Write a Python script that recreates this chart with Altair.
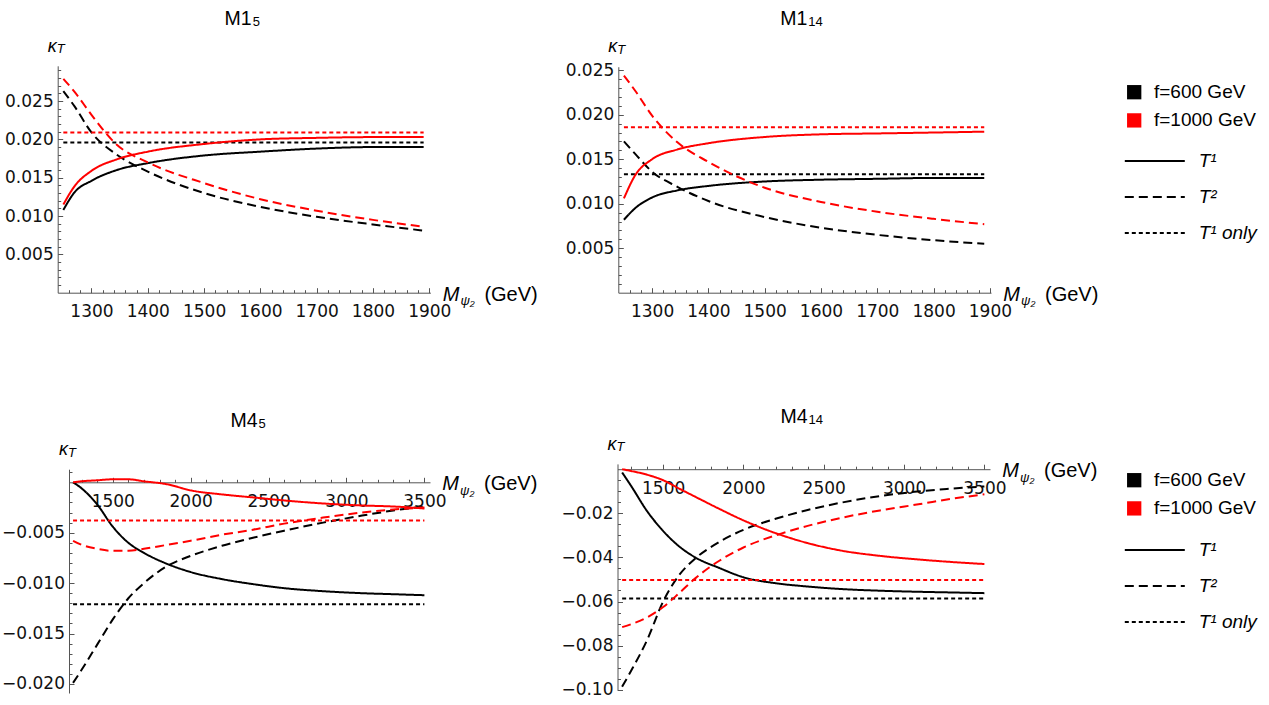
import altair as alt
import pandas as pd

W, H = 1269, 705

F_600, F_1000 = "f=600 GeV", "f=1000 GeV"
T1, T2, T1_ONLY = "T¹", "T²", "T¹ only"

# ---- M1 panels (upper row) -------------------------------------------
M1_X = [1250, 1270, 1300, 1345, 1400, 1500, 1600, 1700, 1800, 1890]

M1_5_T1_600 = [0.0108, 0.0131, 0.0146, 0.0160, 0.0169, 0.0179, 0.0184, 0.0188, 0.0190, 0.0190]
M1_5_T2_600 = [0.0263, 0.0243, 0.0209, 0.0180, 0.0158, 0.0130, 0.0112, 0.0099, 0.0089, 0.0081]
M1_5_T1_1000 = [0.0115, 0.0139, 0.0159, 0.0174, 0.0184, 0.0194, 0.0200, 0.0202, 0.0203, 0.0203]
M1_5_T2_1000 = [0.0279, 0.0262, 0.0232, 0.0193, 0.0170, 0.0143, 0.0122, 0.0107, 0.0095, 0.0086]
M1_5_ONLY_600, M1_5_ONLY_1000 = 0.0196, 0.0209

M1_14_T1_600 = [0.0082, 0.0095, 0.0107, 0.0115, 0.0120, 0.0125, 0.0127, 0.0128, 0.0129, 0.0129]
M1_14_T2_600 = [0.0170, 0.0156, 0.0136, 0.0119, 0.0103, 0.0085, 0.0073, 0.0065, 0.0059, 0.0055]
M1_14_T1_1000 = [0.0106, 0.0132, 0.0150, 0.0161, 0.0168, 0.0175, 0.0178, 0.0179, 0.0180, 0.0181]
M1_14_T2_1000 = [0.0244, 0.0227, 0.0199, 0.0169, 0.0147, 0.0118, 0.0102, 0.0091, 0.0083, 0.0077]
M1_14_ONLY_600, M1_14_ONLY_1000 = 0.0133, 0.0186

# ---- M4 panels (lower row) -------------------------------------------
M4_X = [1245, 1300, 1400, 1500, 1600, 1700, 1850, 2000, 2200, 2400, 2600, 2850, 3100, 3300, 3500]

M4_5_T1_600 = [0.0000, -0.0006, -0.0022, -0.0044, -0.0060, -0.0070, -0.0081, -0.0089,
               -0.0096, -0.0101, -0.0105, -0.0108, -0.0110, -0.0111, -0.0112]
M4_5_T2_600 = [-0.0199, -0.0186, -0.0161, -0.0136, -0.0115, -0.0100, -0.0083, -0.0073,
               -0.0063, -0.0055, -0.0048, -0.0040, -0.0033, -0.0028, -0.0024]
M4_5_T1_1000 = [0.0000, 0.0001, 0.0002, 0.0003, 0.0003, 0.0001, -0.0002, -0.0008,
                -0.0012, -0.0015, -0.0018, -0.0021, -0.0023, -0.0024, -0.0026]
M4_5_T2_1000 = [-0.0058, -0.0062, -0.0066, -0.0068, -0.0068, -0.0066, -0.0062, -0.0058,
                -0.0052, -0.0047, -0.0041, -0.0035, -0.0030, -0.0027, -0.0025]
M4_5_ONLY_600, M4_5_ONLY_1000 = -0.0121, -0.0038

M4_14_T1_600 = [-0.0015, -0.0075, -0.0190, -0.0280, -0.0350, -0.0400, -0.0448, -0.0490,
                -0.0517, -0.0532, -0.0543, -0.0551, -0.0556, -0.0559, -0.0562]
M4_14_T2_600 = [-0.0986, -0.0915, -0.0775, -0.0600, -0.0480, -0.0405, -0.0330, -0.0275,
                -0.0225, -0.0185, -0.0153, -0.0122, -0.0100, -0.0088, -0.0078]
M4_14_T1_1000 = [0.0000, -0.0008, -0.0025, -0.0050, -0.0088, -0.0125, -0.0180, -0.0232,
                 -0.0290, -0.0335, -0.0368, -0.0393, -0.0410, -0.0421, -0.0430]
M4_14_T2_1000 = [-0.0716, -0.0703, -0.0672, -0.0625, -0.0562, -0.0495, -0.0415, -0.0355,
                 -0.0300, -0.0257, -0.0222, -0.0187, -0.0158, -0.0134, -0.0114]
M4_14_ONLY_600, M4_14_ONLY_1000 = -0.0586, -0.0502


def curves(xs, t1_600, t2_600, only_600, t1_1000, t2_1000, only_1000):
    rows = []
    for f, t1, t2, only in ((F_600, t1_600, t2_600, only_600),
                            (F_1000, t1_1000, t2_1000, only_1000)):
        rows += [dict(x=x, y=y, f=f, curve=T1) for x, y in zip(xs, t1)]
        rows += [dict(x=x, y=y, f=f, curve=T2) for x, y in zip(xs, t2)]
        rows += [dict(x=x, y=only, f=f, curve=T1_ONLY) for x in (xs[0], xs[-1])]
    return pd.DataFrame(rows)


AXIS_GRAY = "#555555"
TICK_FONT = "DejaVu Sans"
TICK_SIZE = 17
TEXT_FONT = "Liberation Sans"
MAJOR, MINOR = 5, 3


def x_axis(values, axis_y, labels=True, tick=MAJOR):
    return alt.Axis(orient="top", offset=-axis_y, values=values, format="d",
                    labels=labels, domain=labels, tickSize=tick, tickWidth=1,
                    tickColor=AXIS_GRAY, domainColor=AXIS_GRAY, domainWidth=1,
                    labelFont=TICK_FONT, labelFontSize=TICK_SIZE, labelColor="#111111",
                    labelBaseline="top", labelPadding=-(tick + 11.0),
                    labelFlush=False, labelOverlap=False, grid=False, title=None)


def y_axis(values, axis_x, fmt, labels=True, tick=MAJOR):
    return alt.Axis(orient="right", offset=axis_x - W, values=values, format=fmt,
                    labels=labels, domain=labels, tickSize=tick, tickWidth=1,
                    tickColor=AXIS_GRAY, domainColor=AXIS_GRAY, domainWidth=1,
                    labelFont=TICK_FONT, labelFontSize=TICK_SIZE, labelColor="#111111",
                    labelAlign="right", labelBaseline="middle",
                    labelPadding=-(tick + 4.5), labelOverlap=False, grid=False,
                    title=None)


def color_legend(top):
    # the square is drawn as a thick outline, whose miter bounds are generous,
    # so the rows are pulled together with a negative padding
    return alt.Legend(orient="none", legendX=1124.7, legendY=top, title=None,
                      symbolType="square", symbolSize=49, symbolStrokeWidth=7.3,
                      labelFont=TEXT_FONT, labelFontSize=19, labelColor="black",
                      labelOffset=10.3, rowPadding=-8.8, padding=0)


def dash_legend(top):
    return alt.Legend(orient="none", legendX=1145.3, legendY=top, title=None,
                      symbolType="M-4,0H4", symbolSize=225, symbolStrokeWidth=2,
                      symbolStrokeColor="black", labelFont=TEXT_FONT,
                      labelFontSize=19, labelFontStyle="italic",
                      labelColor="black", labelOffset=34.4, rowPadding=16.0,
                      padding=0)


ONE = pd.DataFrame({"k": [0]})


def txt(s, x, y, size, style="normal", align="left"):
    return alt.Chart(ONE).mark_text(
        text=s, font=TEXT_FONT, fontSize=size, fontStyle=style,
        align=align, baseline="alphabetic", color="black"
    ).encode(x=alt.value(x), y=alt.value(y))


def panel(df, g, legends=None):
    xs = alt.Scale(domain=g["xdom"], range=g["xr"], nice=False, zero=False)
    ys = alt.Scale(domain=g["ydom"], range=g["yr"], nice=False, zero=False)
    axis_y, axis_x = g["axis_y"], g["xr"][0]

    minor = alt.Chart(df).mark_point(opacity=0).encode(
        x=alt.X("x:Q", scale=xs, axis=x_axis(g["x_minor"], axis_y, labels=False, tick=MINOR)),
        y=alt.Y("y:Q", scale=ys, axis=y_axis(g["y_minor"], axis_x, g["fmt"], labels=False, tick=MINOR)),
    )
    cl = color_legend(legends[0]) if legends else None
    dl = dash_legend(legends[1]) if legends else None
    lines = alt.Chart(df).mark_line(interpolate="monotone", color="black").encode(
        x=alt.X("x:Q", scale=xs, axis=x_axis(g["x_major"], axis_y)),
        y=alt.Y("y:Q", scale=ys, axis=y_axis(g["y_major"], axis_x, g["fmt"])),
        color=alt.Color("f:N", scale=alt.Scale(domain=[F_600, F_1000], range=["black", "red"]),
                        legend=cl),
        strokeDash=alt.StrokeDash("curve:N",
                                  scale=alt.Scale(domain=[T1, T2, T1_ONLY],
                                                  range=[[1, 0], [9, 5], [4, 3]]),
                                  legend=dl),
        strokeWidth=alt.value(2),
    )

    # panel title, y-axis symbol and x-axis symbol
    x0, x1 = g["xr"]
    top = g["yr"][1]
    deco = [
        txt(g["title"][0], g["title_x"], g["title_y"], 19.5, align="right"),
        txt(g["title"][1], g["title_x"] + 1, g["title_y"] + 1, 13),
        txt("κ", x0 - 10, top - 14.3, 18, "italic"),
        txt("T", x0 - 1, top - 12.7, 13, "italic"),
        txt("M", x1 + 12.3, axis_y + 8, 20, "italic"),
        txt("ψ₂", x1 + 30, axis_y + 12.5, 13, "italic"),
        txt("(GeV)", x1 + 54, axis_y + 8, 20),
    ]
    return [minor, lines] + deco


y_top_major = [0.005, 0.010, 0.015, 0.020, 0.025]
x_top_major = list(range(1300, 1901, 100))
x_top_minor = [v for v in range(1260, 1901, 20) if v % 100]
x_bot_major = list(range(1500, 3501, 500))
x_bot_minor = [v for v in range(1300, 3501, 100) if v % 500]

geoms = {
    "M1_5": dict(xdom=[1240, 1902], xr=[57.7, 430.4], ydom=[0, 0.0296], yr=[292.7, 65.8],
                 axis_y=292.7, x_major=x_top_major, x_minor=x_top_minor,
                 y_major=y_top_major,
                 y_minor=[round(i * 0.001, 3) for i in range(1, 30) if i % 5],
                 fmt=".3f", title=("M1", "5"), title_x=251.7, title_y=25),
    "M1_14": dict(xdom=[1240, 1902], xr=[618.3, 991.0], ydom=[0, 0.0254], yr=[292.7, 66.7],
                  axis_y=292.7, x_major=x_top_major, x_minor=x_top_minor,
                  y_major=y_top_major,
                  y_minor=[round(i * 0.001, 3) for i in range(1, 26) if i % 5],
                  fmt=".3f", title=("M1", "14"), title_x=807.3, title_y=25),
    "M4_5": dict(xdom=[1219, 3536], xr=[69.0, 430.0], ydom=[-0.0209, 0.0013], yr=[693.0, 469.2],
                 axis_y=482.3, x_major=x_bot_major, x_minor=x_bot_minor,
                 y_major=[-0.020, -0.015, -0.010, -0.005],
                 y_minor=[round(i * 0.001, 3) for i in range(-20, 2) if i % 5],
                 fmt=".3f", title=("M4", "5"), title_x=257.5, title_y=427),
    "M4_14": dict(xdom=[1216, 3535], xr=[617.5, 990.0], ydom=[-0.1003, 0.0024], yr=[690.4, 463.9],
                  axis_y=469.2, x_major=x_bot_major, x_minor=x_bot_minor,
                  y_major=[-0.10, -0.08, -0.06, -0.04, -0.02],
                  y_minor=[round(i * 0.005, 3) for i in range(-19, 0) if i % 4],
                  fmt=".2f", title=("M4", "14"), title_x=807.5, title_y=423),
}

frames = {
    "M1_5": curves(M1_X, M1_5_T1_600, M1_5_T2_600, M1_5_ONLY_600,
                   M1_5_T1_1000, M1_5_T2_1000, M1_5_ONLY_1000),
    "M1_14": curves(M1_X, M1_14_T1_600, M1_14_T2_600, M1_14_ONLY_600,
                    M1_14_T1_1000, M1_14_T2_1000, M1_14_ONLY_1000),
    "M4_5": curves(M4_X, M4_5_T1_600, M4_5_T2_600, M4_5_ONLY_600,
                   M4_5_T1_1000, M4_5_T2_1000, M4_5_ONLY_1000),
    "M4_14": curves(M4_X, M4_14_T1_600, M4_14_T2_600, M4_14_ONLY_600,
                    M4_14_T1_1000, M4_14_T2_1000, M4_14_ONLY_1000),
}

layers = []
layers += panel(frames["M1_5"], geoms["M1_5"], legends=(82.7, 151.5))
layers += panel(frames["M1_14"], geoms["M1_14"])
layers += panel(frames["M4_5"], geoms["M4_5"], legends=(470.7, 540.5))
layers += panel(frames["M4_14"], geoms["M4_14"])

chart = alt.layer(*layers).resolve_scale(
    x="independent", y="independent", color="independent", strokeDash="independent"
).properties(
    width=W, height=H, padding=0, background="white",
    autosize=alt.AutoSizeParams(type="none"),
).configure_view(stroke=None)

chart.save("out.html", embed_options={"renderer": "svg", "actions": False})
